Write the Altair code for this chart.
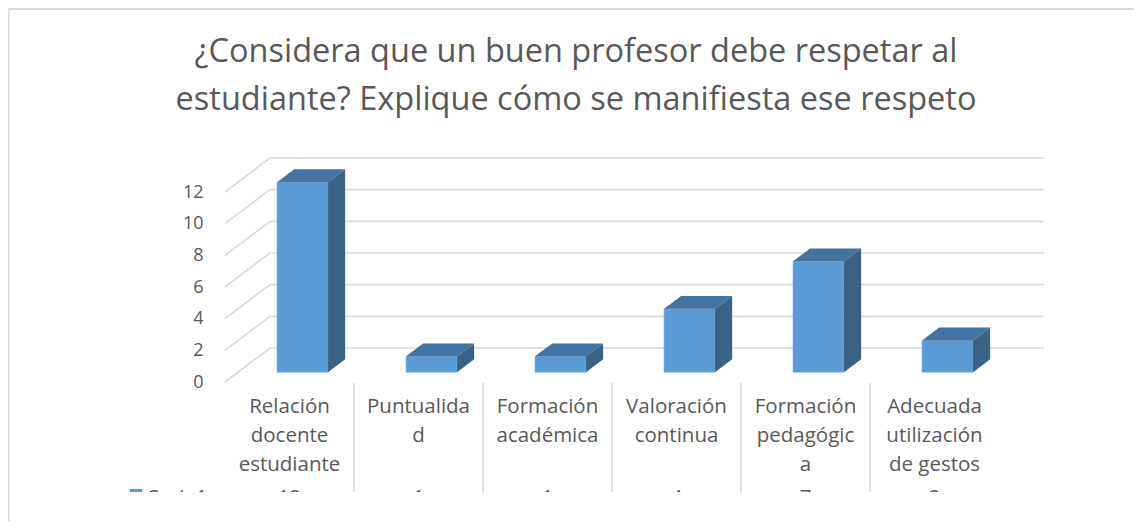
import altair as alt
import pandas as pd

# ---------------- data ----------------
categories = ["Relación docente estudiante", "Puntualidad", "Formación académica",
              "Valoración continua", "Formación pedagógica", "Adecuada utilización de gestos"]
category_lines = ["Relación\ndocente\nestudiante", "Puntualida\nd", "Formación\nacadémica",
                  "Valoración\ncontinua", "Formación\npedagógic\na", "Adecuada\nutilización\nde gestos"]
values = [12, 1, 1, 4, 7, 2]
series_name = "Serie1"
y_ticks = [0, 2, 4, 6, 8, 10, 12]
title_lines = ["¿Considera que un buen profesor debe respetar al",
               "estudiante? Explique cómo se manifiesta ese respeto"]

# ---------------- geometry / style ----------------
FONT = "Open Sans"
GREY = "#595959"
GRID = "#d9d9d9"
FRONT = "#5b9bd5"
TOP = "#4374a1"
SIDE = "#3a6287"

N = len(categories)
YMAX = 12
W, H = 774, 190
PX_X = W / N
PX_Y = H / YMAX
WALL_DX, WALL_DY = 45, -34      # pixel depth of the 3D box
BAR_D0, BAR_D1 = 0.29, 0.67     # bar depth span (fraction of box depth)
BAR_W = 51                      # bar front width in px


def ux(px):
    return px / PX_X


def uy(py):
    return -py / PX_Y


xs = alt.Scale(domain=[0, N], nice=False, zero=False)
ys = alt.Scale(domain=[0, YMAX], nice=False, zero=False)
yaxis = alt.Axis(values=y_ticks, title=None, grid=False, domain=False, ticks=False,
                 labelPadding=22, labelFont=FONT, labelFontSize=18, labelColor=GREY)

# ---------------- tables ----------------
front_rows, top_rows, side_rows = [], [], []
shift_x, shift_y = ux(WALL_DX * BAR_D0), uy(WALL_DY * BAR_D0)
ddx, ddy = ux(WALL_DX * (BAR_D1 - BAR_D0)), uy(WALL_DY * (BAR_D1 - BAR_D0))
hw = ux(BAR_W) / 2
for i, (cat, v) in enumerate(zip(categories, values)):
    c = i + 0.5 + shift_x
    front_rows.append(dict(cat=cat, x=c - hw, x2=c + hw, y=shift_y, y2=v + shift_y))
    top_rows.append(dict(cat=cat, y=v + shift_y, x=c - hw, x2=c + hw))
    top_rows.append(dict(cat=cat, y=v + shift_y + ddy, x=c - hw + ddx, x2=c + hw + ddx))
    side_rows.append(dict(cat=cat, x=c + hw, y=shift_y, y2=v + shift_y))
    side_rows.append(dict(cat=cat, x=c + hw + ddx, y=shift_y + ddy, y2=v + shift_y + ddy))

front_df = pd.DataFrame(front_rows)
top_df = pd.DataFrame(top_rows)
side_df = pd.DataFrame(side_rows)

wdx, wdy = ux(WALL_DX), uy(WALL_DY)
back_df = pd.DataFrame([dict(x=wdx, x2=N + wdx, y=t + wdy, y2=t + wdy) for t in y_ticks])
slant_df = pd.DataFrame([dict(x=0, x2=wdx, y=t, y2=t + wdy) for t in y_ticks])

label_df = pd.DataFrame(dict(x=[i + 0.5 for i in range(N)], label=category_lines,
                             val=[str(v) for v in values]))
div_df = pd.DataFrame(dict(x=list(range(1, N))))

# ---------------- layers ----------------
back = alt.Chart(back_df).mark_rule(color=GRID, strokeWidth=1.6).encode(
    x=alt.X("x:Q", scale=xs, axis=None), x2="x2:Q",
    y=alt.Y("y:Q", scale=ys, axis=yaxis), y2="y2:Q")
slant = alt.Chart(slant_df).mark_rule(color=GRID, strokeWidth=1.6).encode(
    x=alt.X("x:Q", scale=xs, axis=None), x2="x2:Q",
    y=alt.Y("y:Q", scale=ys, axis=yaxis), y2="y2:Q")

front = alt.Chart(front_df).mark_rect(color=FRONT, stroke="#6ea8dc", strokeWidth=0.6).encode(
    x=alt.X("x:Q", scale=xs, axis=None), x2="x2:Q",
    y=alt.Y("y:Q", scale=ys, axis=yaxis), y2="y2:Q")
top = alt.Chart(top_df).mark_area(orient="horizontal", color=TOP).encode(
    y=alt.Y("y:Q", scale=ys, axis=yaxis),
    x=alt.X("x:Q", scale=xs, axis=None), x2="x2:Q",
    detail="cat:N")
side = alt.Chart(side_df).mark_area(orient="vertical", color=SIDE).encode(
    x=alt.X("x:Q", scale=xs, axis=None),
    y=alt.Y("y:Q", scale=ys, axis=yaxis), y2="y2:Q",
    detail="cat:N")

dividers = alt.Chart(div_df).mark_rule(color=GRID, strokeWidth=1.6).encode(
    x=alt.X("x:Q", scale=xs, axis=None),
    y=alt.value(191), y2=alt.value(300))

cat_text = alt.Chart(label_df).mark_text(
    font=FONT, fontSize=20.5, color=GREY, lineBreak="\n", lineHeight=29,
    baseline="alphabetic", align="center").encode(
    x=alt.X("x:Q", scale=xs, axis=None), y=alt.value(221), text="label:N")

val_text = alt.Chart(label_df).mark_text(
    font=FONT, fontSize=20.5, color=GREY, baseline="alphabetic", align="center").encode(
    x=alt.X("x:Q", scale=xs, axis=None), y=alt.value(312), text="val:N")

series_df = pd.DataFrame(dict(name=[series_name]))
series_text = alt.Chart(series_df).mark_text(
    font=FONT, fontSize=20.5, color=GREY, baseline="alphabetic", align="left").encode(
    x=alt.value(-77), y=alt.value(312), text="name:N")
series_key = alt.Chart(series_df).mark_rect(color=FRONT).encode(
    x=alt.value(-95), x2=alt.value(-83), y=alt.value(297), y2=alt.value(304))

mask = alt.Chart(series_df).mark_rect(color="white").encode(
    x=alt.value(-215), x2=alt.value(905), y=alt.value(300), y2=alt.value(330))

border_top = alt.Chart(series_df).mark_rule(color=GRID, strokeWidth=2).encode(
    x=alt.value(-216.5), x2=alt.value(909), y=alt.value(-183), y2=alt.value(-183))
border_left = alt.Chart(series_df).mark_rule(color=GRID, strokeWidth=2).encode(
    x=alt.value(-216.5), x2=alt.value(-216.5), y=alt.value(-183), y2=alt.value(329))

title_df = pd.DataFrame(dict(t=["\n".join(title_lines)]))
title = alt.Chart(title_df).mark_text(
    font=FONT, fontSize=32.5, color=GREY, lineBreak="\n", lineHeight=48,
    baseline="alphabetic", align="center").encode(
    x=alt.value(351), y=alt.value(-130), text="t:N")

chart = alt.layer(
    back, slant, front, top, side, dividers, cat_text, val_text, series_text, series_key,
    mask, border_top, border_left, title
).properties(
    width=W, height=H,
    autosize=alt.AutoSizeParams(type="none"),
    padding={"left": 217, "top": 184, "right": 135, "bottom": 139},
).configure(background="white").configure_view(strokeWidth=0, stroke="transparent")

chart.save("out.html", embed_options={"renderer": "svg", "actions": False})
